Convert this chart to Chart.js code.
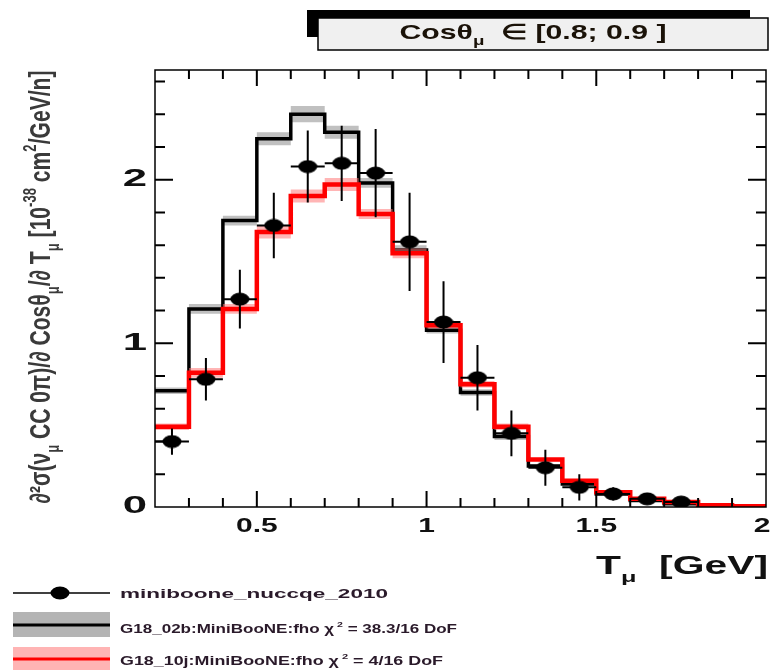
<!DOCTYPE html>
<html><head><meta charset="utf-8">
<script src="https://cdn.jsdelivr.net/npm/chart.js@4"></script>
<style>html,body{margin:0;padding:0;background:#fff}</style>
</head><body>
<canvas id="c" width="774" height="670"></canvas>
<script>
// ---- data ----
const binEdges = [0.2,0.3,0.4,0.5,0.6,0.7,0.8,0.9,1.0,1.1,1.2,1.3,1.4,1.5,1.6,1.7,1.8,1.9,2.0];
const dataX   = [0.25,0.35,0.45,0.55,0.65,0.75,0.85,0.95,1.05,1.15,1.25,1.35,1.45,1.55,1.65,1.75];
const dataY   = [0.40,0.78,1.27,1.72,2.08,2.10,2.04,1.62,1.13,0.79,0.45,0.24,0.12,0.08,0.05,0.03];
const dataErr = [0.08,0.13,0.18,0.20,0.22,0.23,0.27,0.30,0.25,0.20,0.14,0.11,0.08,0.04,0.02,0.02];
const g02b    = [0.71,1.21,1.75,2.25,2.40,2.29,1.98,1.57,1.08,0.70,0.43,0.25,0.14,0.08,0.04,0.02,0.01,0.005];
const g02bErr = [0.02,0.03,0.03,0.04,0.05,0.04,0.03,0.03,0.02,0.02,0.02,0.01,0.01,0.01,0.005,0.005,0.003,0.002];
const g10j    = [0.49,0.82,1.21,1.68,1.90,1.97,1.79,1.55,1.11,0.75,0.49,0.29,0.16,0.09,0.05,0.03,0.01,0.005];
const g10jErr = [0.02,0.03,0.03,0.04,0.04,0.04,0.03,0.03,0.02,0.02,0.02,0.01,0.01,0.01,0.005,0.005,0.003,0.002];
const xTickVals = [0.5,1,1.5,2];
const xTickLabels = ['0.5','1','1.5','2'];
const yTickVals = [0,1,2];
const yTickLabels = ['0','1','2'];
const legendLabels = ['miniboone_nuccqe_2010','G18_02b:MiniBooNE:fho \u03c7\u00b2 = 38.3/16 DoF','G18_10j:MiniBooNE:fho \u03c7\u00b2 = 4/16 DoF'];

function steps(vals, off, sign){
  const pts = vals.map((v,i)=>({x:binEdges[i], y:v + (off? sign*off[i]:0)}));
  pts.push({x:binEdges[binEdges.length-1], y:pts[pts.length-1].y});
  return pts;
}

const SANS='"Liberation Sans"';
function segSize(s,base){ return s.m==='n' ? base : base*0.62; }
function richWidth(ctx, segs, base, family){
  let w=0;
  segs.forEach(s=>{ctx.font='bold '+segSize(s,base)+'px '+family; s.w=ctx.measureText(s.t).width; w+=s.w;});
  return w;
}
function drawRich(ctx, segs, x, y, base, family, align, target, sy){
  const w = richWidth(ctx, segs, base, family);
  const sx = target ? target/w : 1;
  ctx.save(); ctx.translate(x,y); ctx.scale(sx, sy||1);
  let cx = align==='center' ? -w/2 : (align==='right' ? -w : 0);
  ctx.textAlign='left'; ctx.textBaseline='alphabetic';
  segs.forEach(s=>{
    ctx.font='bold '+segSize(s,base)+'px '+family;
    const dy = s.m==='sub' ? base*0.3 : (s.m==='sup' ? -base*0.5 : 0);
    ctx.fillText(s.t, cx, dy); cx += s.w;
  });
  ctx.restore();
}
function drawScaled(ctx, txt, x, y, size, sx, align){
  ctx.save(); ctx.translate(x,y); ctx.scale(sx,1);
  ctx.font='bold '+size+'px '+SANS; ctx.textAlign=align; ctx.textBaseline='middle';
  ctx.fillText(txt,0,0); ctx.restore();
}

const marker = document.createElement('canvas');
marker.width=20; marker.height=14;
(function(){const m=marker.getContext('2d'); m.fillStyle='#000'; m.beginPath(); m.ellipse(10,7,9.5,6.5,0,0,Math.PI*2); m.fill();})();

const decor = {
  id:'decor',
  afterDatasetsDraw(chart){
    const ctx = chart.ctx, xs = chart.scales.x, ys = chart.scales.y;
    ctx.save();
    ctx.strokeStyle='#000'; ctx.lineWidth=2;
    dataX.forEach((xv,i)=>{
      const px = xs.getPixelForValue(xv);
      ctx.beginPath();
      ctx.moveTo(px, ys.getPixelForValue(dataY[i]-dataErr[i]));
      ctx.lineTo(px, ys.getPixelForValue(dataY[i]+dataErr[i]));
      ctx.moveTo(xs.getPixelForValue(xv-0.05), ys.getPixelForValue(dataY[i]));
      ctx.lineTo(xs.getPixelForValue(xv+0.05), ys.getPixelForValue(dataY[i]));
      ctx.stroke();
    });
    ctx.restore();
  },
  afterDraw(chart){
    const ctx = chart.ctx, xs = chart.scales.x, ys = chart.scales.y, a = chart.chartArea;
    ctx.save();
    ctx.strokeStyle='#000'; ctx.lineWidth=1.5;
    ctx.strokeRect(a.left, a.top, a.right-a.left, a.bottom-a.top);
    ctx.lineWidth=2;
    for(let k=3;k<=19;k++){
      const v=k/10, px=xs.getPixelForValue(v), major=(k%5===0), L= major?16:9;
      ctx.beginPath();
      ctx.moveTo(px,a.bottom); ctx.lineTo(px,a.bottom-L);
      ctx.moveTo(px,a.top); ctx.lineTo(px,a.top+L);
      ctx.stroke();
    }
    for(let k=1;k<=13;k++){
      const v=k/5, py=ys.getPixelForValue(v), major=(k%5===0), L= major?18:10;
      ctx.beginPath();
      ctx.moveTo(a.left,py); ctx.lineTo(a.left+L,py);
      ctx.moveTo(a.right,py); ctx.lineTo(a.right-L,py);
      ctx.stroke();
    }
    ctx.fillStyle='#111';
    xTickVals.forEach((v,i)=>{
      let px = xs.getPixelForValue(v); if(v===2) px -= 4;
      drawScaled(ctx, xTickLabels[i], px, 526, 20, 1.5, 'center');
    });
    yTickVals.forEach((v,i)=>{
      drawScaled(ctx, yTickLabels[i], 147, ys.getPixelForValue(v), 23, 1.9, 'right');
    });
    // title box
    ctx.fillStyle='#000'; ctx.fillRect(307,10,443,27);
    ctx.fillStyle='#f0f0f0'; ctx.fillRect(318,18,450,32);
    ctx.lineWidth=1.5; ctx.strokeRect(318,18,450,32);
    ctx.fillStyle='#1a1208';
    drawRich(ctx,[{t:'Cos\u03b8',m:'n'},{t:'\u03bc',m:'sub'},{t:'  \u2208 [0.8; 0.9 ]',m:'n'}],533,39,21,SANS,'center',267);
    // y title
    ctx.save();
    ctx.translate(50,287); ctx.rotate(-Math.PI/2);
    ctx.fillStyle='#3a3a3a';
    drawRich(ctx,[{t:'\u2202\u00b2\u03c3(\u03bd',m:'n'},{t:'\u03bc',m:'sub'},{t:' CC 0\u03c0)/\u2202 Cos\u03b8',m:'n'},{t:'\u03bc',m:'sub'},
      {t:'/\u2202 T',m:'n'},{t:'\u03bc',m:'sub'},{t:' [10',m:'n'},{t:'-38',m:'sup'},{t:' cm',m:'n'},{t:'2',m:'sup'},{t:'/GeV/n]',m:'n'}],0,0,16,SANS,'center',433,1.8);
    ctx.restore();
    // x title
    ctx.fillStyle='#111';
    drawRich(ctx,[{t:'T',m:'n'},{t:'\u03bc',m:'sub'},{t:'  [GeV]',m:'n'}],768,574,25,SANS,'right',172);
    // legend
    ctx.strokeStyle='#000'; ctx.lineWidth=1.5;
    ctx.beginPath(); ctx.moveTo(13,593); ctx.lineTo(110,593); ctx.stroke();
    ctx.drawImage(marker,50,586);
    ctx.fillStyle='#b4b4b4'; ctx.fillRect(13,612,97,25);
    ctx.strokeStyle='#000'; ctx.lineWidth=3; ctx.beginPath(); ctx.moveTo(13,625); ctx.lineTo(110,625); ctx.stroke();
    ctx.fillStyle='#ffb4b4'; ctx.fillRect(13,647,97,23);
    ctx.strokeStyle='#ff0000'; ctx.lineWidth=3; ctx.beginPath(); ctx.moveTo(13,659); ctx.lineTo(110,659); ctx.stroke();
    ctx.fillStyle='#2a1a2a';
    drawRich(ctx,[{t:legendLabels[0],m:'n'}],120,598,13,SANS,'left',268);
    drawRich(ctx,[{t:'G18_02b:MiniBooNE:fho \u03c7',m:'n'},{t:' 2',m:'sup'},{t:' = 38.3/16 DoF',m:'n'}],120,633,13,SANS,'left',337);
    drawRich(ctx,[{t:'G18_10j:MiniBooNE:fho \u03c7',m:'n'},{t:' 2',m:'sup'},{t:' = 4/16 DoF',m:'n'}],120,665,13,SANS,'left',323);
    ctx.restore();
  }
};

new Chart(document.getElementById('c'), {
  type:'scatter',
  data:{datasets:[
    {label:legendLabels[0], data:dataX.map((x,i)=>({x:x,y:dataY[i]})), pointStyle:marker, pointRadius:7, pointHoverRadius:7, backgroundColor:'#000', borderColor:'#000', showLine:false, order:0},
    {label:legendLabels[2], data:steps(g10j), showLine:true, stepped:'before', borderColor:'#ff0000', borderWidth:4.5, pointRadius:0, fill:false, order:1},
    {label:'g10j lo', data:steps(g10j,g10jErr,-1), showLine:true, stepped:'before', borderWidth:0, borderColor:'rgba(0,0,0,0)', pointRadius:0, fill:false, order:2},
    {label:'g10j hi', data:steps(g10j,g10jErr,1), showLine:true, stepped:'before', borderWidth:0, borderColor:'rgba(0,0,0,0)', pointRadius:0, fill:'-1', backgroundColor:'rgba(255,120,120,0.55)', order:2},
    {label:legendLabels[1], data:steps(g02b), showLine:true, stepped:'before', borderColor:'#000', borderWidth:3.5, pointRadius:0, fill:false, order:3},
    {label:'g02b lo', data:steps(g02b,g02bErr,-1), showLine:true, stepped:'before', borderWidth:0, borderColor:'rgba(0,0,0,0)', pointRadius:0, fill:false, order:4},
    {label:'g02b hi', data:steps(g02b,g02bErr,1), showLine:true, stepped:'before', borderWidth:0, borderColor:'rgba(0,0,0,0)', pointRadius:0, fill:'-1', backgroundColor:'rgba(150,150,150,0.6)', order:4}
  ]},
  options:{
    responsive:false, animation:false, devicePixelRatio:1,
    layout:{padding:{top:70,right:4,left:0,bottom:0}},
    plugins:{legend:{display:false}, tooltip:{enabled:false}},
    scales:{
      x:{type:'linear', min:0.2, max:2.0, grid:{display:false, drawTicks:false}, border:{display:false},
         ticks:{display:false},
         afterBuildTicks:s=>{s.ticks = xTickVals.map(v=>({value:v}));},
         afterFit:s=>{s.height=163; s.paddingLeft=0; s.paddingRight=0;}},
      y:{type:'linear', min:0, max:2.67, grid:{display:false, drawTicks:false}, border:{display:false},
         ticks:{display:false},
         afterBuildTicks:s=>{s.ticks = yTickVals.map(v=>({value:v}));},
         afterFit:s=>{s.width=155; s.paddingTop=0; s.paddingBottom=0;}}
    }
  },
  plugins:[decor]
});
</script>
</body></html>
